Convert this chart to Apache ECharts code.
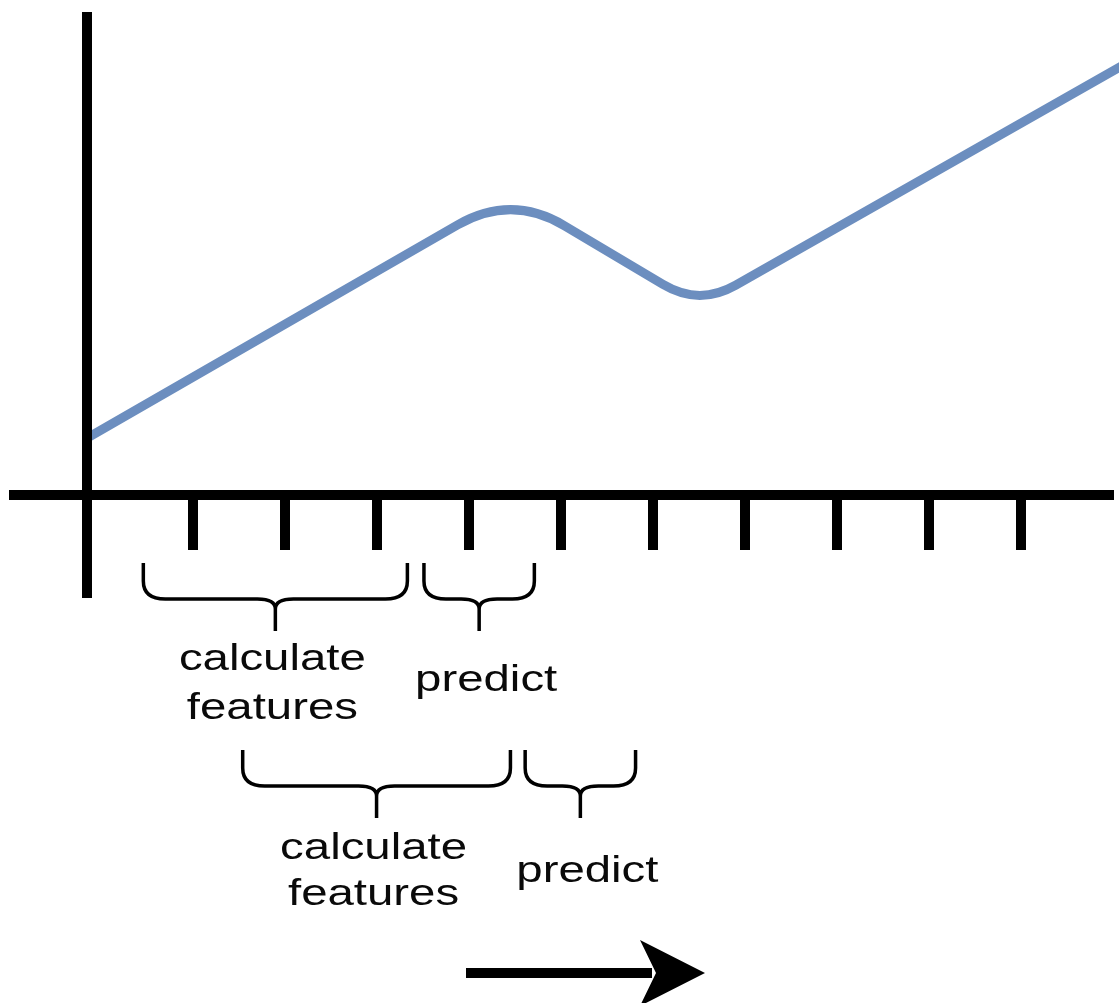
<!DOCTYPE html>
<html><head><meta charset="utf-8">
<script src="https://cdn.jsdelivr.net/npm/echarts@6/dist/echarts.min.js"></script>
<style>html,body{margin:0;padding:0;background:#fff}#c{width:1119px;height:1003px}</style>
</head><body><div id="c"></div>
<script>
// signal line vertices (x in tick steps, y in arbitrary units; 0,0 = axis origin)
const lineX = [0, 4.61, 6.65, 11.3];
const lineY = [5.7, 30.1, 18.9, 43.2];
// tick marks on the time axis
const tickValues = [1.15, 2.15, 3.15, 4.15, 5.15, 6.15, 7.15, 8.15, 9.15, 10.15];
// brace annotations
const braceLabels = [['calculate', 'features'], ['predict'], ['calculate', 'features'], ['predict']];
const braceStart = [0.61, 3.66, 1.69, 4.76];
const braceEnd = [3.48, 4.86, 4.60, 5.96];
const braceRow = [0, 0, 1, 1];

// ---- styling / layout constants (pixels) ----
const cornerRadius = [62, 42];
const rowTop = [563, 750];
const horizDrop = 36, stemDrop = 68;
const textMid = [[660, 709], [849, 895]];
const predictMid = [681, 872];
const font = '37px "Liberation Sans", Arial, Helvetica, sans-serif';
const sx = 1.28;

function roundedPath(pts) {
  let d = 'M' + pts[0][0] + ',' + pts[0][1];
  for (let i = 1; i < pts.length - 1; i++) {
    const P = pts[i - 1], C = pts[i], N = pts[i + 1];
    const r = cornerRadius[(i - 1) % cornerRadius.length];
    const l1 = Math.hypot(P[0] - C[0], P[1] - C[1]);
    const l2 = Math.hypot(N[0] - C[0], N[1] - C[1]);
    const A = [C[0] + r * (P[0] - C[0]) / l1, C[1] + r * (P[1] - C[1]) / l1];
    const B = [C[0] + r * (N[0] - C[0]) / l2, C[1] + r * (N[1] - C[1]) / l2];
    d += ' L' + A[0] + ',' + A[1] + ' Q' + C[0] + ',' + C[1] + ' ' + B[0] + ',' + B[1];
  }
  const L = pts[pts.length - 1];
  d += ' L' + L[0] + ',' + L[1];
  return d;
}

function textEl(t, x, y) {
  return {type: 'text', x: x, y: y, scaleX: sx, z2: 10,
    style: {text: t, x: 0, y: 0, font: font, fill: '#0a0a0a', align: 'center', verticalAlign: 'middle',
            textAlign: 'center', textVerticalAlign: 'middle'}};
}

const chart = echarts.init(document.getElementById('c'), null, {renderer: 'canvas'});
const axisStyle = {color: '#000', width: 10, cap: 'butt'};
chart.setOption({
  animation: false,
  backgroundColor: '#fff',
  grid: {left: 9, right: 5, top: 12, bottom: 405, containLabel: false},
  xAxis: {
    type: 'value', min: -0.85, max: 11.16, z: 5,
    axisLine: {show: true, onZero: true, lineStyle: axisStyle},
    axisTick: {show: true, customValues: tickValues, length: 55, inside: false, lineStyle: {color: '#000', width: 10}},
    axisLabel: {show: false}, splitLine: {show: false}
  },
  yAxis: {
    type: 'value', min: -10.3, max: 48.3, z: 5,
    axisLine: {show: true, onZero: true, lineStyle: axisStyle},
    axisTick: {show: false}, axisLabel: {show: false}, splitLine: {show: false}
  },
  series: [{
    type: 'custom',
    name: 'signal',
    clip: false,
    z: 2,
    data: lineX.map((x, i) => [x, lineY[i]]),
    renderItem: function (params, api) {
      if (params.dataIndex !== 0) return null;
      const pts = lineX.map((x, i) => api.coord([x, lineY[i]]));
      return {type: 'path', shape: {pathData: roundedPath(pts)},
        style: {fill: 'none', stroke: '#6C8EBF', lineWidth: 9, lineJoin: 'round'}};
    }
  }, {
    type: 'custom',
    name: 'braces',
    clip: false,
    z: 10,
    data: braceStart.map((s, i) => [s, braceEnd[i], braceRow[i]]),
    renderItem: function (params, api) {
      const i = params.dataIndex;
      const x0 = api.coord([api.value(0), 0])[0];
      const x1 = api.coord([api.value(1), 0])[0];
      const row = api.value(2);
      const cx = (x0 + x1) / 2;
      const yt = rowTop[row], yh = yt + horizDrop, ys = yt + stemDrop;
      const r = 22, c = 18;
      const d = `M${x0},${yt} L${x0},${yh - r + 4} Q${x0},${yh} ${x0 + r},${yh} L${cx - c},${yh} Q${cx},${yh} ${cx},${yh + 10} L${cx},${ys} ` +
                `M${x1},${yt} L${x1},${yh - r + 4} Q${x1},${yh} ${x1 - r},${yh} L${cx + c},${yh} Q${cx},${yh} ${cx},${yh + 10}`;
      const children = [{type: 'path', shape: {pathData: d}, style: {fill: 'none', stroke: '#000', lineWidth: 3.5}}];
      const lines = braceLabels[i];
      if (lines.length === 2) {
        children.push(textEl(lines[0], cx - 3, textMid[row][0]));
        children.push(textEl(lines[1], cx - 3, textMid[row][1]));
      } else {
        children.push(textEl(lines[0], cx + 7, predictMid[row]));
      }
      return {type: 'group', children: children};
    }
  }],
  graphic: [
    {type: 'rect', shape: {x: 466, y: 968, width: 186, height: 10}, style: {fill: '#000'}, z: 10},
    {type: 'polygon', shape: {points: [[705, 973], [640, 940], [656, 973], [640, 1006]]}, style: {fill: '#000'}, z: 10}
  ]
});
</script>
</body></html>
